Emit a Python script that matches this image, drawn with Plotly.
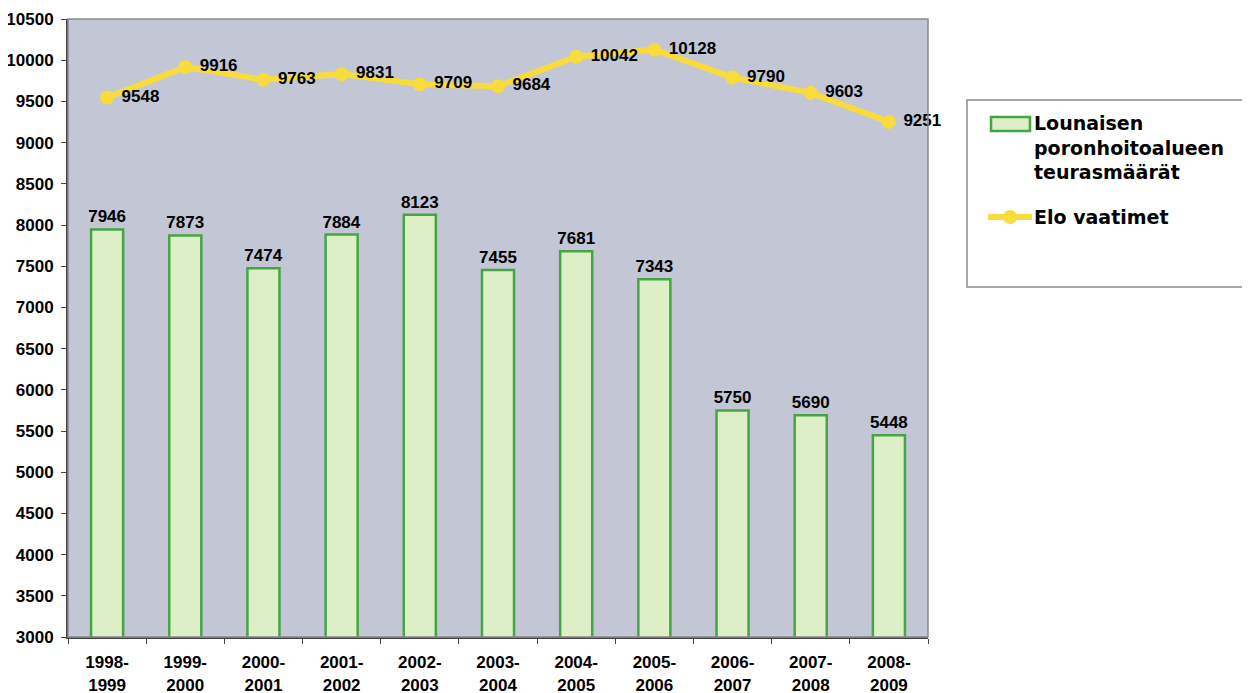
import plotly.graph_objects as go

categories = ["1998-<br>1999", "1999-<br>2000", "2000-<br>2001", "2001-<br>2002", "2002-<br>2003",
              "2003-<br>2004", "2004-<br>2005", "2005-<br>2006", "2006-<br>2007", "2007-<br>2008",
              "2008-<br>2009"]
teurasmaarat = [7946, 7873, 7474, 7884, 8123, 7455, 7681, 7343, 5750, 5690, 5448]
elo_vaatimet = [9548, 9916, 9763, 9831, 9709, 9684, 10042, 10128, 9790, 9603, 9251]
y_ticks = list(range(3000, 10501, 500))
bar_name = "Lounaisen<br>poronhoitoalueen<br>teurasmäärät"
line_name = "Elo vaatimet"

BAR_FILL = "#dcefc6"
BAR_EDGE = "#45a545"
LINE_COL = "#f7dc3c"
FONT = "Liberation Sans, Arial"

# page body adds an 8px offset; figure coords = screen coords - OFF
OFF = 8
FIG_W, FIG_H = 1250 - OFF, 693 - OFF
L, T, R, B = 68 - OFF, 19 - OFF, 928 - OFF, 637 - OFF

fig = go.Figure()
fig.add_trace(go.Bar(
    x=categories, y=teurasmaarat, name=bar_name,
    marker=dict(color=BAR_FILL, line=dict(color=BAR_EDGE, width=2.5)),
    text=[str(v) for v in teurasmaarat], textposition="outside", constraintext="none",
    textfont=dict(family=FONT, size=17, color="black", weight="bold"),
    cliponaxis=False, showlegend=False,
))
fig.add_trace(go.Scatter(
    x=categories, y=elo_vaatimet, mode="lines+markers+text", name=line_name,
    line=dict(color=LINE_COL, width=6),
    marker=dict(color=LINE_COL, size=14),
    text=[" " + str(v) for v in elo_vaatimet], textposition="middle right",
    textfont=dict(family=FONT, size=17, color="black", weight="bold"),
    cliponaxis=False, showlegend=False,
))

fig.update_layout(
    width=FIG_W, height=FIG_H,
    margin=dict(l=L, r=FIG_W - R, t=T, b=FIG_H - B, autoexpand=False),
    paper_bgcolor="white", plot_bgcolor="#c2c6d5",
    bargap=0.59,
    font=dict(family=FONT, size=17, color="black"),
    showlegend=False,
)

# plot frame
fig.add_shape(type="rect", xref="paper", yref="paper", x0=0, x1=1, y0=0, y1=1,
              line=dict(color="#8a8a8a", width=1.5), layer="above")

# legend box (drawn manually; screen pixel -> paper conversion)
W, H = R - L, B - T
def px(x):
    return (x - OFF - L) / W
def py(y):
    return (B - (y - OFF)) / H

fig.add_shape(type="rect", xref="paper", yref="paper",
              x0=px(967), x1=px(1248), y0=py(287), y1=py(100),
              line=dict(color="#8a8a8a", width=1.5), fillcolor="white")
fig.add_shape(type="rect", xref="paper", yref="paper",
              x0=px(991), x1=px(1030), y0=py(131), y1=py(117),
              line=dict(color=BAR_EDGE, width=2.5), fillcolor=BAR_FILL)
fig.add_shape(type="line", xref="paper", yref="paper",
              x0=px(988), x1=px(1032), y0=py(217), y1=py(217),
              line=dict(color=LINE_COL, width=6))
fig.add_shape(type="circle", xref="paper", yref="paper",
              x0=px(1003), x1=px(1017), y0=py(224), y1=py(210),
              line=dict(color=LINE_COL, width=0), fillcolor=LINE_COL)
fig.add_annotation(xref="paper", yref="paper", x=px(1032), y=py(110),
                   xanchor="left", yanchor="top", align="left", showarrow=False,
                   text=bar_name,
                   font=dict(family="DejaVu Sans", size=19, color="black", weight="bold"))
fig.add_annotation(xref="paper", yref="paper", x=px(1032), y=py(217),
                   xanchor="left", yanchor="middle", align="left", showarrow=False,
                   text=line_name,
                   font=dict(family="DejaVu Sans", size=19, color="black", weight="bold"))

fig.update_xaxes(range=[-0.5, len(categories) - 0.5],
                 showgrid=False, ticks="outside", tickson="boundaries", ticklen=5,
                 tickcolor="#444444", ticklabelstandoff=9,
                 showline=True, linecolor="#444444", linewidth=2,
                 tickfont=dict(family=FONT, size=17, color="black", weight="bold"))
fig.update_yaxes(range=[3000, 10500], tickvals=y_ticks, ticktext=[str(v) for v in y_ticks],
                 showgrid=False, ticks="outside", ticklen=5, tickcolor="#444444",
                 ticklabelstandoff=4,
                 showline=True, linecolor="#444444", linewidth=2, zeroline=False,
                 tickfont=dict(family=FONT, size=17, color="black", weight="bold"))
fig.write_html("out.html")
